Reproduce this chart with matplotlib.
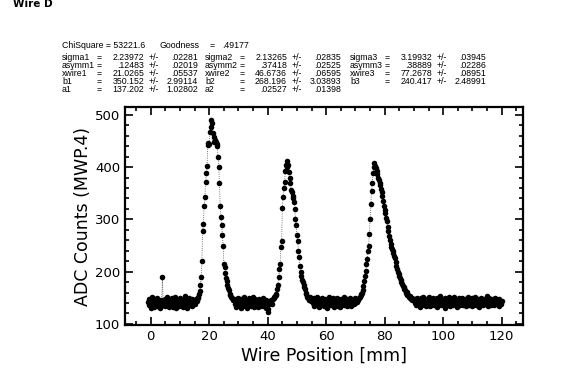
import numpy as np
import matplotlib
matplotlib.use("Agg")
import matplotlib.pyplot as plt
from matplotlib.ticker import MultipleLocator

# ADC counts, 0.25 mm steps, split by region
base0_start = -1.0
base0 = [142,136,148,139,131,145,152,138,140,133,147,141,135,150,144,137,
         143,130,146,139,189,136,141,148,134,142,151,138,145,132,140,147,
         136,149,141,133,144,152,139,130,146,138,143,135,150,141,137,145,
         132,147,140,154,138,143,131,146,139,149,136,142,134,148,141,144]
peak1_start = 15.0
peak1 = [142,138,147,144,150,152,158,163,175,190,220,278,292,325,342,372,
         388,402,443,447,445,468,476,490,
         484,466,448,458,452,448,445,440,420,400,370,325,305,290,270,250,
         215,208,198,188,182,175,168,164,158,155,152,150,148,145]
base1_start = 28.5
base1 = [145,139,133,148,141,136,150,138,144,131,147,140,135,152,139,143,
         137,146,130,142,149,136,141,134,145,138,151,133,140,147,136,143,
         139,132,148,141,135,144,138,150,134,142,137,146,131,140,122,128,
         139,143]
peak2_start = 41.0
peak2 = [140,146,138,148,151,150,154,156,158,166,174,190,205,215,248,258,
         322,342,360,372,392,405,411,400,404,390,380,370,356,352,345,340,
         333,320,300,290,270,258,240,228,210,200,192,185,180,175,170,166,
         160,157,152,150,148,146,152,144,147]
base2_start = 55.25
base2 = [146,140,135,149,142,138,151,137,144,133,147,141,136,150,143,139,
         134,148,140,145,131,146,138,152,141,136,144,139,149,133,142,147,
         137,143,150,135,140,146,132,148,141,138,145,136,151,139,143,134,
         147,140,137,149,142,135,146,139,144,138,150,141,145]
peak3_start = 70.5
peak3 = [142,148,146,150,152,155,158,160,165,172,182,192,202,215,225,240,
         250,272,300,330,355,370,388,400,408,402,398,392,386,380,376,370,
         366,358,352,345,336,326,318,312,302,296,285,278,268,260,252,248,
         244,240,236,230,226,218,210,206,200,196,192,188,184,180,176,172,
         170,166,164,160,162,156,155,152,154,150,148,150,146,148,145]
base3_start = 90.25
base3 = [141,147,136,150,143,138,145,133,149,140,137,152,144,139,146,135,
         148,142,137,151,140,134,146,143,138,150,141,136,147,144,132,149,
         139,145,141,153,136,142,148,138,144,131,150,140,146,137,143,152,
         135,141,148,139,145,136,151,142,138,147,133,144,140,149,137,146,
         142,150,136,143,139,148,134,145,141,152,137,144,140,147,135,149,
         143,138,146,151,136,142,140,148,133,145,139,150,144,137,147,141,
         138,146,142,153,135,143,149,139,145,136,141,148,144,137,150,140,
         146,139,143,135,148,141,138,144]

step = 0.25
segments = [(base0_start, base0), (peak1_start, peak1), (base1_start, base1),
            (peak2_start, peak2), (base2_start, base2), (peak3_start, peak3),
            (base3_start, base3)]
pos = np.concatenate([s + step * np.arange(len(v)) for s, v in segments])
adc = np.concatenate([v for s, v in segments])

chi_parts = ["ChiSquare = 53221.6", "Goodness", "=", ".49177"]
col_labels = [["sigma1", "asymm1", "xwire1", "b1", "a1"],
              ["sigma2", "asymm2", "xwire2", "b2", "a2"],
              ["sigma3", "asymm3", "xwire3", "b3"]]
col_values = [["2.23972", ".12483", "21.0265", "350.152", "137.202"],
              ["2.13265", ".37418", "46.6736", "268.196", ".02527"],
              ["3.19932", ".38889", "77.2678", "240.417"]]
col_errors = [[".02281", ".02019", ".05537", "2.99114", "1.02802"],
              [".02835", ".02525", ".06595", "3.03893", ".01398"],
              [".03945", ".02286", ".08951", "2.48991"]]

W, H = 581, 371
fig = plt.figure(figsize=(W / 100, H / 100), dpi=100)
ax = fig.add_axes([125 / W, 1 - 325 / H, 398 / W, 218 / H])

ax.plot(pos, adc, linestyle=":", color="0.3", linewidth=0.6, zorder=1)
ax.plot(pos, adc, linestyle="none", marker="o", markersize=4.0,
        color="black", markeredgewidth=0, zorder=2)

ax.set_xlim(-8.8, 127.3)
ax.set_ylim(98, 515)
ax.xaxis.set_major_locator(MultipleLocator(20))
ax.xaxis.set_minor_locator(MultipleLocator(5))
ax.yaxis.set_major_locator(MultipleLocator(100))
ax.yaxis.set_minor_locator(MultipleLocator(20))
ax.tick_params(which="both", direction="in", top=True, right=True,
               width=1.2, labelsize=9.5)
ax.tick_params(which="major", length=6)
ax.tick_params(which="minor", length=3)
for sp in ax.spines.values():
    sp.set_linewidth(1.6)

ax.set_xlabel("Wire Position [mm]", fontsize=12.5, labelpad=3)
ax.set_ylabel("ADC Counts (MWP.4)", fontsize=12.5, labelpad=2)

fig.text(13 / W, 1 - 4 / H, "Wire D", fontsize=7.5, fontweight="bold",
         va="center", ha="left")

fs = 6.3
fam = "Liberation Sans"
def px(x, y):
    return x / W, 1 - y / H

for x, s in zip([62, 160, 210, 222], chi_parts):
    fig.text(*px(x, 45.5), s, fontsize=fs, family=fam, va="center")

col_x = [62, 205, 350]
row_y = [57.5, 65.5, 73.5, 81.5, 89.5]
for c in range(3):
    x0 = col_x[c]
    for r in range(len(col_labels[c])):
        y = row_y[r]
        kw = dict(fontsize=fs, family=fam, va="center")
        fig.text(*px(x0, y), col_labels[c][r], **kw)
        fig.text(*px(x0 + 35, y), "=", **kw)
        fig.text(*px(x0 + 82, y), col_values[c][r], ha="right", **kw)
        fig.text(*px(x0 + 87, y), "+/-", **kw)
        fig.text(*px(x0 + 136, y), col_errors[c][r], ha="right", **kw)

fig.savefig("out.png", dpi=100)
